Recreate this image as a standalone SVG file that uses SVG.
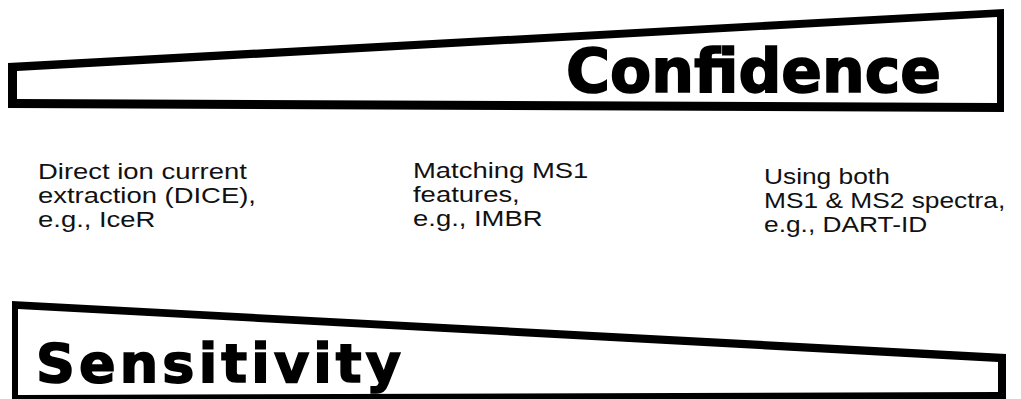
<svg xmlns="http://www.w3.org/2000/svg" width="1021" height="399" viewBox="0 0 1021 399">
<style>
.outer{fill:#000}
.inner{fill:#fff}
.title{font-family:"DejaVu Sans",sans-serif;font-weight:bold;fill:#000;stroke:#000;stroke-width:1.6}
.lbl{font-family:"Liberation Sans",Arial,sans-serif;font-size:22.5px;fill:#111}
</style>
<rect width="1021" height="399" fill="#fff"/>
<g id="confidence">
<polygon class="outer" points="8,63 1004,9 1004,112 8,108"/>
<polygon class="inner" points="17,71 997,17 997,103 17,99"/>
<text class="title" x="566" y="92" font-size="60" textLength="375" lengthAdjust="spacing">Confidence</text>
</g>
<g id="sensitivity">
<polygon class="outer" points="12,301 1006,354 1006,405 12,405"/>
<polygon class="inner" points="18,309 998,362 998,392 18,395"/>
<text class="title" x="36" y="382" font-size="54" textLength="365" lengthAdjust="spacing">Sensitivity</text>
</g>
<g id="dice" transform="translate(38,0) scale(1.22,1)">
<text class="lbl" x="0" y="179">Direct ion current</text>
<text class="lbl" x="0" y="203">extraction (DICE),</text>
<text class="lbl" x="0" y="227">e.g., IceR</text>
</g>
<g id="ms1" transform="translate(413,0) scale(1.22,1)">
<text class="lbl" x="0" y="178">Matching MS1</text>
<text class="lbl" x="0" y="202">features,</text>
<text class="lbl" x="0" y="226">e.g., IMBR</text>
</g>
<g id="both" transform="translate(764,0) scale(1.17,1)">
<text class="lbl" x="0" y="184">Using both</text>
<text class="lbl" x="0" y="208">MS1 &amp; MS2 spectra,</text>
<text class="lbl" x="0" y="232">e.g., DART-ID</text>
</g>
<g id="connectors"/>
</svg>
